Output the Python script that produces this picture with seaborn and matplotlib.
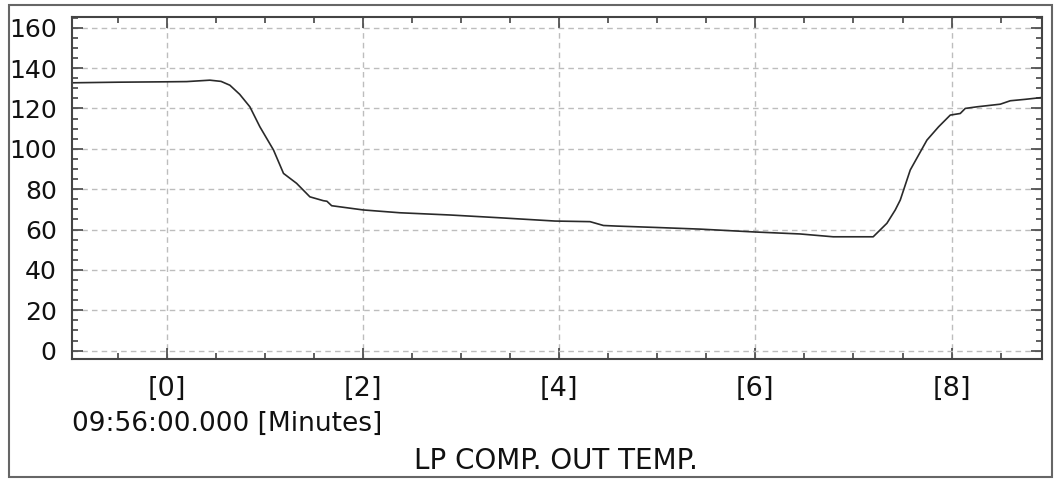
import numpy as np
import pandas as pd
import matplotlib
matplotlib.use('Agg')
import matplotlib.pyplot as plt
import seaborn as sns
from matplotlib.ticker import MultipleLocator
from matplotlib.patches import Rectangle

# Data (minutes from 09:56:00, temperature)
minutes = [-0.97, -0.5, 0.0, 0.2, 0.436, 0.55, 0.64, 0.74, 0.844, 0.946, 1.085, 1.187,
           1.32, 1.456, 1.592, 1.63, 1.678, 1.8, 2.0, 2.375, 2.885, 3.4, 3.956, 4.313,
           4.45, 4.589, 5.0, 5.436, 5.987, 6.456, 6.793, 7.201, 7.341, 7.426, 7.477,
           7.579, 7.749, 7.868, 7.987, 8.089, 8.14, 8.259, 8.497, 8.599, 8.75, 8.92]
temps = [132.7, 133.0, 133.2, 133.3, 134.0, 133.4, 131.5, 127.0, 120.8, 110.9, 99.4, 87.8,
         82.9, 76.2, 74.3, 74.0, 71.8, 71.0, 69.7, 68.3, 67.2, 65.8, 64.2, 63.9,
         62.0, 61.7, 61.0, 60.2, 58.8, 57.8, 56.4, 56.4, 63.1, 69.7, 74.6,
         89.5, 104.3, 110.9, 116.7, 117.5, 120.0, 120.8, 122.1, 123.8, 124.5, 125.4]
x_ticks = [0, 2, 4, 6, 8]
x_tick_labels = ['[0]', '[2]', '[4]', '[6]', '[8]']
y_ticks = [0, 20, 40, 60, 80, 100, 120, 140, 160]

df = pd.DataFrame({'minutes': minutes, 'temp': temps})

sns.set_style('white')
plt.rcParams['font.family'] = ['DejaVu Sans']

fig = plt.figure(figsize=(10.59, 4.79), dpi=100)
ax = fig.add_axes([0.068, 0.2499, 0.9157, 0.7146])

sns.lineplot(data=df, x='minutes', y='temp', ax=ax, color='#2a2a2a', linewidth=1.2)

ax.set_xlim(-0.97, 8.92)
ax.set_ylim(-4.3, 165.3)
ax.set_xticks(x_ticks)
ax.set_xticklabels(x_tick_labels)
ax.set_yticks(y_ticks)
ax.xaxis.set_minor_locator(MultipleLocator(0.5))
ax.yaxis.set_minor_locator(MultipleLocator(5))

ax.grid(True, which='major', linestyle=(0, (4, 3)), color='#bdbdbd', linewidth=1)
ax.tick_params(which='both', direction='in', top=True, right=True, bottom=True, left=True,
               color='#444444', width=1.2)
ax.tick_params(which='major', length=8)
ax.tick_params(which='minor', length=4)
ax.tick_params(axis='y', labelsize=18, pad=11, labelcolor='#111111')
ax.tick_params(axis='x', labelsize=19.5, pad=12, labelcolor='#111111')
for s in ax.spines.values():
    s.set_color('#444444')
    s.set_linewidth(1.5)
ax.set_xlabel('')
ax.set_ylabel('')

fig.text(72 / 1059, 1 - 424 / 479, '09:56:00.000 [Minutes]', fontsize=19,
         ha='left', va='center', color='#111111')
fig.text(556 / 1059, 1 - 461 / 479, 'LP COMP. OUT TEMP.', fontsize=20,
         ha='center', va='center', color='#111111')

# outer frame around the whole trend panel
fig.patches.append(Rectangle((9 / 1059, 2 / 479), 1043 / 1059, 472 / 479,
                             transform=fig.transFigure, fill=False,
                             edgecolor='#666666', linewidth=1.5))

fig.savefig('out.png', dpi=100)
